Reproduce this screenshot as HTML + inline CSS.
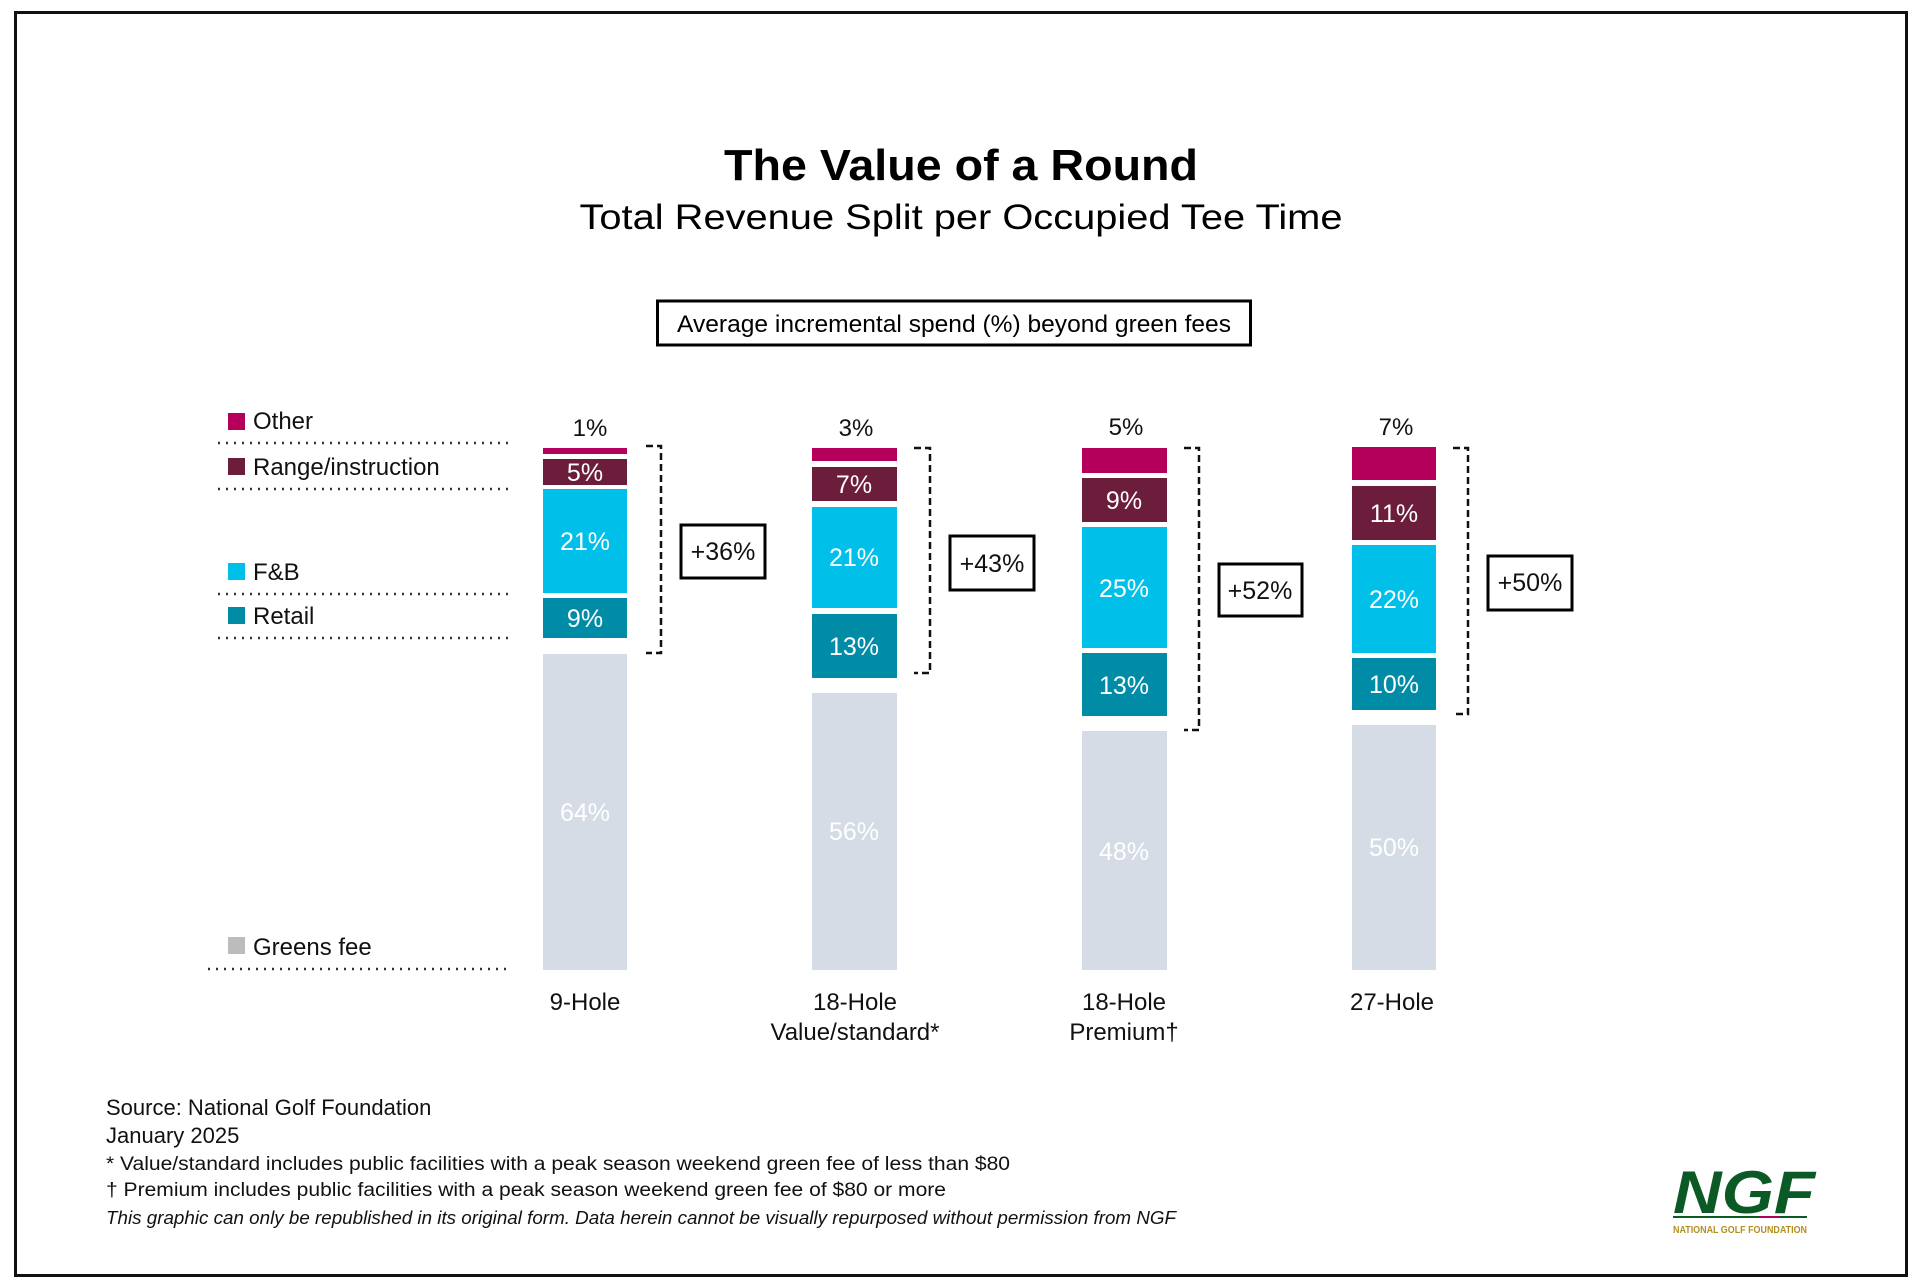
<!DOCTYPE html>
<html><head><meta charset="utf-8"><style>html,body{margin:0;padding:0;background:#fff}svg{display:block}</style></head>
<body>
<svg width="1920" height="1287" viewBox="0 0 1920 1287" xmlns="http://www.w3.org/2000/svg" font-family="Liberation Sans, sans-serif">
<rect x="0" y="0" width="1920" height="1287" fill="#fff"/>
<rect x="15.5" y="12.5" width="1891" height="1263" fill="none" stroke="#111" stroke-width="3"/>
<text x="961" y="180" text-anchor="middle" font-size="44" font-weight="bold" fill="#000" textLength="474" lengthAdjust="spacingAndGlyphs">The Value of a Round</text>
<text x="961" y="229" text-anchor="middle" font-size="35" fill="#000" textLength="763" lengthAdjust="spacingAndGlyphs">Total Revenue Split per Occupied Tee Time</text>
<rect x="657.5" y="301" width="593" height="44" fill="none" stroke="#000" stroke-width="3"/>
<text x="954" y="332" text-anchor="middle" font-size="24" fill="#000" textLength="554" lengthAdjust="spacingAndGlyphs">Average incremental spend (%) beyond green fees</text>

<g stroke="#333" stroke-width="2.5" stroke-dasharray="2,6">
<line x1="218" y1="443" x2="510" y2="443"/><line x1="218" y1="489" x2="510" y2="489"/>
<line x1="218" y1="594" x2="510" y2="594"/><line x1="218" y1="638" x2="510" y2="638"/>
<line x1="208" y1="969" x2="510" y2="969"/>
</g>
<g font-size="24" fill="#111">
<rect x="228" y="413" width="17" height="17" fill="#b5005b"/><text x="253" y="429">Other</text>
<rect x="228" y="458" width="17" height="17" fill="#6b1d3b"/><text x="253" y="475">Range/instruction</text>
<rect x="228" y="563" width="17" height="17" fill="#00c0ea"/><text x="253" y="580">F&amp;B</text>
<rect x="228" y="607" width="17" height="17" fill="#008ca6"/><text x="253" y="624">Retail</text>
<rect x="228" y="937" width="17" height="17" fill="#bcbcbc"/><text x="253" y="955">Greens fee</text>
</g>

<g font-size="25" fill="#fff" text-anchor="middle">
<!-- 9-hole -->
<rect x="543" y="448" width="84" height="6" fill="#b5005b"/>
<rect x="543" y="459" width="84" height="26" fill="#6b1d3b"/><text x="585" y="472" dy="9">5%</text>
<rect x="543" y="489" width="84" height="104" fill="#00c0ea"/><text x="585" y="541" dy="9">21%</text>
<rect x="543" y="598" width="84" height="40" fill="#008ca6"/><text x="585" y="618" dy="9">9%</text>
<rect x="543" y="654" width="84" height="316" fill="#d5dce6"/><text x="585" y="812" dy="9">64%</text>
<!-- 18V -->
<rect x="812" y="448" width="85" height="13" fill="#b5005b"/>
<rect x="812" y="467" width="85" height="34" fill="#6b1d3b"/><text x="854" y="484" dy="9">7%</text>
<rect x="812" y="507" width="85" height="101" fill="#00c0ea"/><text x="854" y="557" dy="9">21%</text>
<rect x="812" y="614" width="85" height="64" fill="#008ca6"/><text x="854" y="646" dy="9">13%</text>
<rect x="812" y="693" width="85" height="277" fill="#d5dce6"/><text x="854" y="831" dy="9">56%</text>
<!-- 18P -->
<rect x="1082" y="448" width="85" height="25" fill="#b5005b"/>
<rect x="1082" y="478" width="85" height="44" fill="#6b1d3b"/><text x="1124" y="500" dy="9">9%</text>
<rect x="1082" y="527" width="85" height="121" fill="#00c0ea"/><text x="1124" y="588" dy="9">25%</text>
<rect x="1082" y="653" width="85" height="63" fill="#008ca6"/><text x="1124" y="685" dy="9">13%</text>
<rect x="1082" y="731" width="85" height="239" fill="#d5dce6"/><text x="1124" y="851" dy="9">48%</text>
<!-- 27 -->
<rect x="1352" y="447" width="84" height="33" fill="#b5005b"/>
<rect x="1352" y="486" width="84" height="54" fill="#6b1d3b"/><text x="1394" y="513" dy="9">11%</text>
<rect x="1352" y="545" width="84" height="108" fill="#00c0ea"/><text x="1394" y="599" dy="9">22%</text>
<rect x="1352" y="658" width="84" height="52" fill="#008ca6"/><text x="1394" y="684" dy="9">10%</text>
<rect x="1352" y="725" width="84" height="245" fill="#d5dce6"/><text x="1394" y="847" dy="9">50%</text>
</g>

<g font-size="24" fill="#111" text-anchor="middle">
<text x="590" y="436">1%</text><text x="856" y="436">3%</text><text x="1126" y="435">5%</text><text x="1396" y="435">7%</text>
<text x="585" y="1010">9-Hole</text>
<text x="855" y="1010">18-Hole</text><text x="855" y="1040">Value/standard*</text>
<text x="1124" y="1010">18-Hole</text><text x="1124" y="1040">Premium†</text>
<text x="1392" y="1010">27-Hole</text>
</g>

<g fill="none" stroke="#111" stroke-width="2.5" stroke-dasharray="7,4">
<path d="M646 446 H661 V653 H646"/>
<path d="M914 448 H930 V673 H914"/>
<path d="M1184 448 H1199 V730 H1184"/>
<path d="M1453 448 H1468 V714 H1453"/>
</g>
<g fill="#fff" stroke="#000" stroke-width="3">
<rect x="681" y="525" width="84" height="53"/>
<rect x="950" y="536" width="84" height="54"/>
<rect x="1219" y="564" width="83" height="52"/>
<rect x="1488" y="556" width="84" height="54"/>
</g>
<g font-size="25" fill="#111" text-anchor="middle">
<text x="723" y="560">+36%</text><text x="992" y="572">+43%</text><text x="1260" y="599">+52%</text><text x="1530" y="591">+50%</text>
</g>

<g fill="#111">
<text x="106" y="1115" font-size="22">Source: National Golf Foundation</text>
<text x="106" y="1143" font-size="22">January 2025</text>
<text x="106" y="1170" font-size="19" textLength="904" lengthAdjust="spacingAndGlyphs">* Value/standard includes public facilities with a peak season weekend green fee of less than $80</text>
<text x="106" y="1196" font-size="19" textLength="840" lengthAdjust="spacingAndGlyphs">† Premium includes public facilities with a peak season weekend green fee of $80 or more</text>
<text x="106" y="1224" font-size="18" font-style="italic" textLength="1070" lengthAdjust="spacingAndGlyphs">This graphic can only be republished in its original form. Data herein cannot be visually repurposed without permission from NGF</text>
</g>
<text x="1673" y="1213" font-size="60" font-weight="bold" font-style="italic" fill="#0b5a25" textLength="142" lengthAdjust="spacingAndGlyphs">NGF</text>
<rect x="1673" y="1216" width="134" height="2" fill="#0b5a25"/>
<rect x="1760" y="1216" width="20" height="2" fill="#b5005b"/>
<text x="1673" y="1233" font-size="10" font-weight="bold" fill="#b09020" textLength="134" lengthAdjust="spacingAndGlyphs">NATIONAL GOLF FOUNDATION</text>
</svg>
</body></html>
